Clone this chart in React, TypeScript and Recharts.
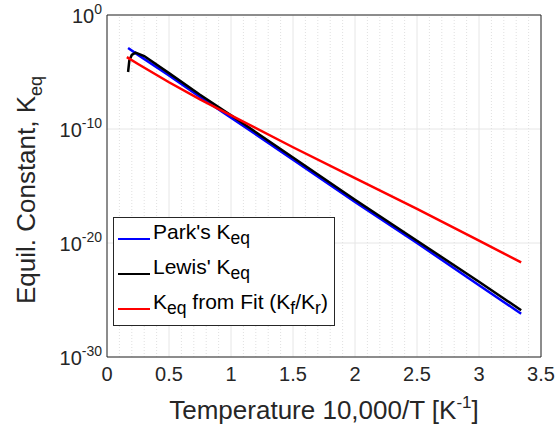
import React from "react";
import {
  LineChart,
  Line,
  XAxis,
  YAxis,
  CartesianGrid,
  ReferenceLine,
  Legend,
  Label,
} from "recharts";

// x = 10,000/T, y = log10(Keq)
const parkX = [0.17, 0.25, 0.5, 0.75, 1, 1.5, 2, 2.5, 3, 3.34];
const parkY = [-2.9, -3.5, -5.3, -7.2, -9.0, -12.7, -16.4, -20.0, -23.7, -26.2];

const lewisX = [0.17, 0.18, 0.2, 0.23, 0.3, 0.5, 0.75, 1, 1.5, 2, 2.5, 3, 3.34];
const lewisY = [-5.0, -4.0, -3.5, -3.3, -3.6, -5.1, -7.0, -8.8, -12.5, -16.2, -19.8, -23.4, -25.9];

const fitX = [0.16, 0.25, 0.5, 0.75, 1, 1.5, 2, 2.5, 3, 3.34];
const fitY = [-3.7, -4.3, -5.9, -7.4, -8.8, -11.6, -14.3, -17.0, -19.8, -21.7];

const xTicks = [0, 0.5, 1, 1.5, 2, 2.5, 3, 3.5];
const xMinor = [
  0.1, 0.2, 0.3, 0.4, 0.6, 0.7, 0.8, 0.9, 1.1, 1.2, 1.3, 1.4, 1.6, 1.7, 1.8,
  1.9, 2.1, 2.2, 2.3, 2.4, 2.6, 2.7, 2.8, 2.9, 3.1, 3.2, 3.3, 3.4,
];
const yTicks = [-30, -20, -10, 0];

const toRows = (xs: number[], ys: number[]) =>
  xs.map((x, i) => ({ x, y: ys[i] }));

const parkData = toRows(parkX, parkY);
const lewisData = toRows(lewisX, lewisY);
const fitData = toRows(fitX, fitY);

const AXIS = "#262626";
const FONT = "'Liberation Sans', Arial, Helvetica, sans-serif";

const PowTick = ({ x, y, payload }: any) => (
  <text x={x} y={y} textAnchor="end" fill={AXIS} fontSize={20} fontFamily={FONT}>
    <tspan dy={8}>10</tspan>
    <tspan dy={-9} fontSize={14}>
      {payload.value}
    </tspan>
  </text>
);

const LegendBox = () => {
  const rows = [
    { color: "#0000ff", text: <>Park's K<sub>eq</sub></> },
    { color: "#000000", text: <>Lewis' K<sub>eq</sub></> },
    {
      color: "#ff0000",
      text: (
        <>
          K<sub>eq</sub> from Fit (K<sub>f</sub>/K<sub>r</sub>)
        </>
      ),
    },
  ];
  return (
    <div
      style={{
        border: `1px solid ${AXIS}`,
        background: "#fff",
        padding: "0px 6px 2px 4px",
        fontFamily: FONT,
        fontSize: 21,
        color: "#000",
        lineHeight: "34px",
      }}
    >
      {rows.map((r, i) => (
        <div key={i} style={{ display: "flex", alignItems: "center", height: 35 }}>
          <span
            style={{
              display: "inline-block",
              width: 32,
              height: 2,
              background: r.color,
              marginRight: 3,
              marginTop: 6,
            }}
          />
          <span style={{ whiteSpace: "nowrap" }}>{r.text}</span>
        </div>
      ))}
    </div>
  );
};

const App: React.FC = () => {
  return (
    <div style={{ position: "absolute", left: 0, top: 0, background: "#fff" }}>
      <LineChart
        width={560}
        height={427}
        margin={{ top: 15, right: 19, bottom: 0, left: 0 }}
      >
        <CartesianGrid stroke="#e6e6e6" strokeWidth={1} />
        {xMinor.map((v) => (
          <ReferenceLine
            key={v}
            x={v}
            stroke="#e0e0e0"
            strokeDasharray="1 2"
          />
        ))}
        <XAxis
          type="number"
          dataKey="x"
          domain={[0, 3.5]}
          ticks={xTicks}
          interval={0}
          allowDuplicatedCategory={false}
          height={70}
          stroke={AXIS}
          tickLine={false}
          tickSize={0}
          tickMargin={10}
          tick={{ fill: AXIS, fontSize: 20, fontFamily: FONT }}
        >
          <Label
            content={() => (
              <text
                x={324}
                y={419}
                textAnchor="middle"
                fill={AXIS}
                fontSize={26}
                fontFamily={FONT}
              >
                Temperature 10,000/T [K
                <tspan dy={-11} fontSize={17}>
                  -1
                </tspan>
                <tspan dy={11}>]</tspan>
              </text>
            )}
          />
        </XAxis>
        <YAxis
          type="number"
          domain={[-30, 0]}
          ticks={yTicks}
          interval={0}
          width={107}
          stroke={AXIS}
          tickLine={false}
          tickSize={0}
          tickMargin={5}
          tick={<PowTick />}
        >
          <Label
            content={() => (
              <text
                x={0}
                y={0}
                transform="translate(35, 190) rotate(-90)"
                textAnchor="middle"
                fill={AXIS}
                fontSize={26}
                fontFamily={FONT}
              >
                Equil. Constant, K
                <tspan dy={7} fontSize={18}>
                  eq
                </tspan>
              </text>
            )}
          />
        </YAxis>
        <ReferenceLine y={0} stroke={AXIS} />
        <ReferenceLine x={3.5} stroke={AXIS} />
        <Line
          data={parkData}
          dataKey="y"
          name="Park's Keq"
          stroke="#0000ff"
          strokeWidth={2.5}
          dot={false}
          type="linear"
          isAnimationActive={false}
        />
        <Line
          data={lewisData}
          dataKey="y"
          name="Lewis' Keq"
          stroke="#000000"
          strokeWidth={2.5}
          dot={false}
          type="linear"
          isAnimationActive={false}
        />
        <Line
          data={fitData}
          dataKey="y"
          name="Keq from Fit"
          stroke="#ff0000"
          strokeWidth={2.5}
          dot={false}
          type="linear"
          isAnimationActive={false}
        />
        <Legend
          content={<LegendBox />}
          layout="horizontal"
          verticalAlign="middle"
          align="center"
          wrapperStyle={{ position: "absolute", left: 113, top: 217, width: "auto" }}
        />
      </LineChart>
    </div>
  );
};

export default App;
